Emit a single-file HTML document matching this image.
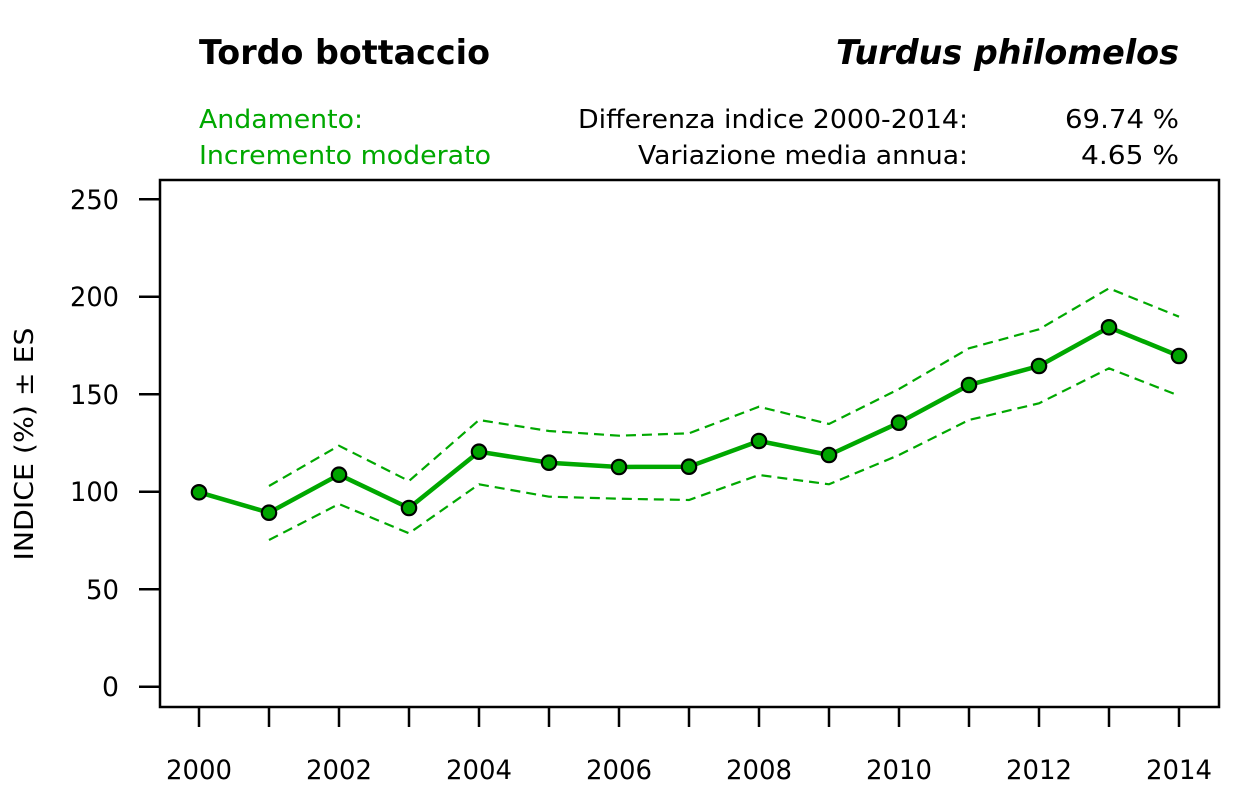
<!DOCTYPE html>
<html>
<head>
<meta charset="utf-8">
<style>
  html, body { margin: 0; padding: 0; background: #ffffff; }
  svg { display: block; }
  text { font-family: "DejaVu Sans", "Liberation Sans", sans-serif; }
</style>
</head>
<body>
<svg width="1259" height="787" viewBox="0 0 1259 787" xmlns="http://www.w3.org/2000/svg">
  <rect x="0" y="0" width="1259" height="787" fill="#ffffff"/>

  <!-- Header -->
  <text x="199" y="64" font-size="34" font-weight="bold" fill="#000" textLength="291" lengthAdjust="spacingAndGlyphs">Tordo bottaccio</text>
  <text x="836" y="64" font-size="34" font-weight="bold" font-style="italic" fill="#000" textLength="343" lengthAdjust="spacingAndGlyphs">Turdus philomelos</text>

  <text x="199" y="128" font-size="26" fill="#00a800" textLength="164" lengthAdjust="spacingAndGlyphs">Andamento:</text>
  <text x="199" y="164" font-size="26" fill="#00a800" textLength="292" lengthAdjust="spacingAndGlyphs">Incremento moderato</text>

  <text x="578" y="128" font-size="26" fill="#000" textLength="390" lengthAdjust="spacingAndGlyphs">Differenza indice 2000-2014:</text>
  <text x="638" y="164" font-size="26" fill="#000" textLength="330" lengthAdjust="spacingAndGlyphs">Variazione media annua:</text>
  <text x="1065" y="128" font-size="26" fill="#000" textLength="114" lengthAdjust="spacingAndGlyphs">69.74 %</text>
  <text x="1081" y="164" font-size="26" fill="#000" textLength="98" lengthAdjust="spacingAndGlyphs">4.65 %</text>

  <!-- Plot box -->
  <rect x="160" y="180" width="1059" height="527" fill="none" stroke="#000" stroke-width="2.5"/>

  <!-- Y ticks -->
  <g stroke="#000" stroke-width="2.5">
    <line x1="139" y1="199.2" x2="160" y2="199.2"/>
    <line x1="139" y1="296.7" x2="160" y2="296.7"/>
    <line x1="139" y1="394.2" x2="160" y2="394.2"/>
    <line x1="139" y1="491.7" x2="160" y2="491.7"/>
    <line x1="139" y1="589.2" x2="160" y2="589.2"/>
    <line x1="139" y1="686.7" x2="160" y2="686.7"/>
  </g>
  <g font-size="27" fill="#000" text-anchor="end">
    <text x="119" y="209" textLength="49" lengthAdjust="spacingAndGlyphs">250</text>
    <text x="119" y="306" textLength="49" lengthAdjust="spacingAndGlyphs">200</text>
    <text x="119" y="404" textLength="49" lengthAdjust="spacingAndGlyphs">150</text>
    <text x="119" y="501" textLength="49" lengthAdjust="spacingAndGlyphs">100</text>
    <text x="119" y="599" textLength="33" lengthAdjust="spacingAndGlyphs">50</text>
    <text x="119" y="696" textLength="17" lengthAdjust="spacingAndGlyphs">0</text>
  </g>

  <!-- Y axis title -->
  <text transform="translate(33,444) rotate(-90)" font-size="26" fill="#000" text-anchor="middle" textLength="233" lengthAdjust="spacingAndGlyphs">INDICE (%) ± ES</text>

  <!-- X ticks -->
  <g stroke="#000" stroke-width="2.5">
    <line x1="199" y1="707" x2="199" y2="727"/>
    <line x1="269" y1="707" x2="269" y2="727"/>
    <line x1="339" y1="707" x2="339" y2="727"/>
    <line x1="409" y1="707" x2="409" y2="727"/>
    <line x1="479" y1="707" x2="479" y2="727"/>
    <line x1="549" y1="707" x2="549" y2="727"/>
    <line x1="619" y1="707" x2="619" y2="727"/>
    <line x1="689" y1="707" x2="689" y2="727"/>
    <line x1="759" y1="707" x2="759" y2="727"/>
    <line x1="829" y1="707" x2="829" y2="727"/>
    <line x1="899" y1="707" x2="899" y2="727"/>
    <line x1="969" y1="707" x2="969" y2="727"/>
    <line x1="1039" y1="707" x2="1039" y2="727"/>
    <line x1="1109" y1="707" x2="1109" y2="727"/>
    <line x1="1179" y1="707" x2="1179" y2="727"/>
  </g>
  <g font-size="27" fill="#000" text-anchor="middle">
    <text x="199" y="779" textLength="66" lengthAdjust="spacingAndGlyphs">2000</text>
    <text x="339" y="779" textLength="66" lengthAdjust="spacingAndGlyphs">2002</text>
    <text x="479" y="779" textLength="66" lengthAdjust="spacingAndGlyphs">2004</text>
    <text x="619" y="779" textLength="66" lengthAdjust="spacingAndGlyphs">2006</text>
    <text x="759" y="779" textLength="66" lengthAdjust="spacingAndGlyphs">2008</text>
    <text x="899" y="779" textLength="66" lengthAdjust="spacingAndGlyphs">2010</text>
    <text x="1039" y="779" textLength="66" lengthAdjust="spacingAndGlyphs">2012</text>
    <text x="1179" y="779" textLength="66" lengthAdjust="spacingAndGlyphs">2014</text>
  </g>

  <!-- Dashed SE lines -->
  <polyline fill="none" stroke="#00a800" stroke-width="2.2" stroke-dasharray="10,6"
    points="269,486 339,445.7 409,481 479,420 549,431 619,435.7 689,433.3 759,406.7 829,424 899,389 969,348.3 1039,329.3 1109,288.3 1179,316.7"/>
  <polyline fill="none" stroke="#00a800" stroke-width="2.2" stroke-dasharray="10,6"
    points="269,540 339,504 409,533.3 479,484.3 549,496.7 619,498.7 689,500 759,475 829,484.3 899,455 969,420 1039,403.3 1109,368.3 1179,395.7"/>

  <!-- Main line -->
  <polyline fill="none" stroke="#00a800" stroke-width="4.5" stroke-linejoin="round"
    points="199,492.3 269,512.7 339,474.7 409,508 479,451.7 549,462.7 619,467 689,466.7 759,441 829,455 899,422.7 969,385 1039,366 1109,327.3 1179,356"/>

  <!-- Markers -->
  <g fill="#00a400" stroke="#000" stroke-width="2.2">
    <circle cx="199" cy="492.3" r="7.2"/>
    <circle cx="269" cy="512.7" r="7.2"/>
    <circle cx="339" cy="474.7" r="7.2"/>
    <circle cx="409" cy="508" r="7.2"/>
    <circle cx="479" cy="451.7" r="7.2"/>
    <circle cx="549" cy="462.7" r="7.2"/>
    <circle cx="619" cy="467" r="7.2"/>
    <circle cx="689" cy="466.7" r="7.2"/>
    <circle cx="759" cy="441" r="7.2"/>
    <circle cx="829" cy="455" r="7.2"/>
    <circle cx="899" cy="422.7" r="7.2"/>
    <circle cx="969" cy="385" r="7.2"/>
    <circle cx="1039" cy="366" r="7.2"/>
    <circle cx="1109" cy="327.3" r="7.2"/>
    <circle cx="1179" cy="356" r="7.2"/>
  </g>
</svg>
</body>
</html>
